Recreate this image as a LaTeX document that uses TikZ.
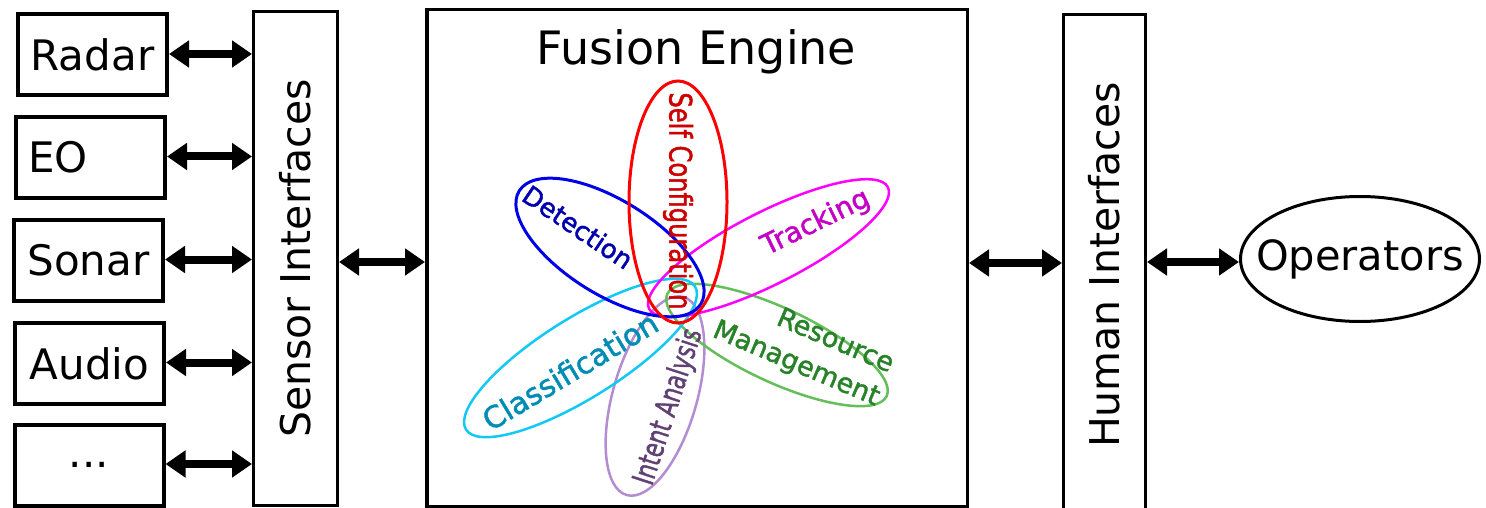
\documentclass[tikz,border=0pt]{standalone}
\usepackage{fontspec}
\setmainfont{DejaVu Sans}
% a slightly stroked face for the function labels
\newfontfamily\petalfont{DejaVu Sans}[RawFeature={embolden=1.6}]
\usetikzlibrary{arrows.meta,shapes.geometric}

\newcommand\setfs[2]{\fontsize{#1}{#2}\selectfont}

% outline colours of the fusion-engine functions
\definecolor{petred}{RGB}{255,0,0}
\definecolor{petblue}{RGB}{0,0,230}
\definecolor{petmag}{RGB}{255,0,255}
\definecolor{petcyan}{RGB}{20,200,245}
\definecolor{petgreen}{RGB}{100,190,90}
\definecolor{petpurple}{RGB}{180,140,210}
% label colours
\definecolor{txtred}{RGB}{205,0,0}
\definecolor{txtblue}{RGB}{0,0,175}
\definecolor{txtmag}{RGB}{195,0,195}
\definecolor{txtcyan}{RGB}{0,140,180}
\definecolor{txtgreen}{RGB}{40,130,40}
\definecolor{txtpurple}{RGB}{95,65,115}

\begin{document}
\begin{tikzpicture}[x=1pt,y=-1pt,
  sbox/.style={draw,line width=4pt,minimum width=149pt,minimum height=81pt,
               inner sep=0pt,font=\setfs{42}{50}},
  bar/.style={draw,line width=3pt,inner sep=0pt},
  biarrow/.style={line width=8pt,
    {Triangle[length=20pt,width=26pt]}-{Triangle[length=20pt,width=26pt]}},
  petal/.style={line width=2.5pt},
  plabel/.style={inner sep=0pt},
]
\useasboundingbox (0,0) rectangle (1486,508);

% sensors
\node[sbox] (radar) at (92.5,55)   {Radar};
\node[sbox,text width=125pt,align=left] (eo) at (90.5,157.5) {EO};
\node[sbox] (sonar) at (88.5,260.5) {Sonar};
\node[sbox] (audio) at (89.5,363.5) {Audio};
\node[sbox] (more)  at (89,465)     {...};

% interface bars
\node[bar,minimum width=84pt,minimum height=494pt] (sensor) at (295.5,258.5)
  {\rotatebox{90}{\setfs{41}{49}Sensor Interfaces}};
\node[bar,minimum width=82pt,minimum height=501pt] (human) at (1104.5,265)
  {\rotatebox{90}{\setfs{41}{49}Human Interfaces}};

% fusion engine
\node[draw,line width=3.5pt,minimum width=540.5pt,minimum height=497pt,inner sep=0pt]
  (fusion) at (697,258) {};
\node[font=\setfs{46}{55},anchor=base] (title) at (696.5,65) {Fusion Engine};

% operators
\node[draw,ellipse,line width=3pt,minimum width=239pt,minimum height=125pt,
      inner sep=0pt,font=\setfs{41.6}{50}] (ops) at (1360,259)
  {\makebox[0pt]{Operators}};

% connectors
\foreach \s in {radar,eo,sonar,audio,more}
  \draw[biarrow] ([yshift=1pt]\s.east) -- ([yshift=1pt]\s.east -| sensor.west);
\draw[biarrow] ([yshift=-3.5pt]sensor.east) -- ([yshift=-3.5pt]sensor.east -| fusion.west);
\draw[biarrow] (human.west |- 0,263) coordinate (hl) -- (hl -| fusion.east);
\draw[biarrow] (human.east |- 0,262) coordinate (hr) -- (hr -| ops.west);

% functions inside the fusion engine
\draw[petal,petpurple,rotate around={-16:(655,396)}] (655,396)
  ellipse [x radius=42pt, y radius=103pt];
\draw[petal,petgreen,rotate around={-25:(777,345)}] (777,345)
  ellipse [x radius=121pt, y radius=37pt];
\draw[petal,petcyan,rotate around={32:(580.5,358)}] (580.5,358)
  ellipse [x radius=135pt, y radius=40pt];
\draw[petal,petmag,rotate around={27:(768.5,248)}] (768.5,248)
  ellipse [x radius=134pt, y radius=36pt];
\draw[petal,petblue,line width=3pt,rotate around={-32:(610,247.5)}] (610,247.5)
  ellipse [x radius=107pt, y radius=47pt];
\draw[petal,petred,line width=3pt] (678,202) ellipse [x radius=49pt, y radius=121pt];

\node[plabel,rotate=-90,text=txtred,font=\petalfont\setfs{31}{37}] (selfcfg) at (678,201)
  {\scalebox{0.78}[1]{Self Configuration}};
\node[plabel,rotate=-34,text=txtblue,font=\petalfont\setfs{26}{31}] (detect) at (578,227) {Detection};
\node[plabel,rotate=26,text=txtmag,font=\petalfont\setfs{28}{34}] (track) at (816,223) {Tracking};
\node[plabel,rotate=31,text=txtcyan,font=\petalfont\setfs{30}{36}] (classif) at (570,371) {Classification};
\node[plabel,rotate=-23,text=txtgreen,font=\petalfont\setfs{27}{36},align=right] (resmgmt) at (803,348)
  {Resource\\Management};
\node[plabel,rotate=72,text=txtpurple,font=\petalfont\setfs{30}{36}] (intent) at (669,407)
  {\scalebox{0.73}[1]{Intent Analysis}};
\end{tikzpicture}
\end{document}
